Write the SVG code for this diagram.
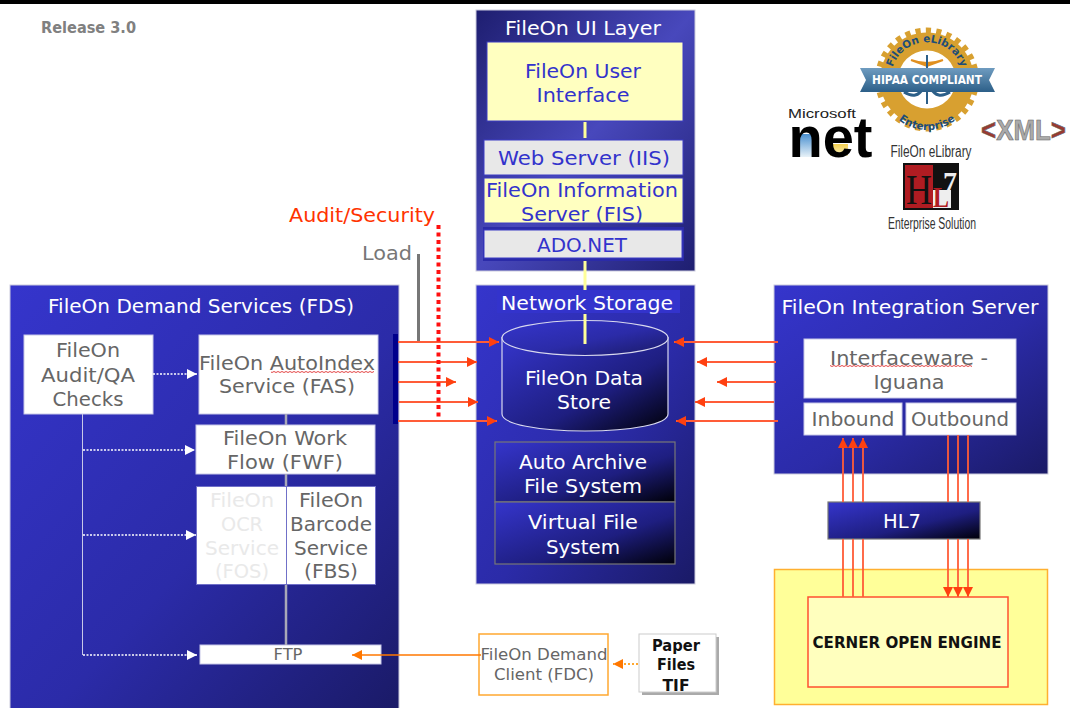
<svg xmlns="http://www.w3.org/2000/svg" width="1070" height="708" viewBox="0 0 1070 708">
<style>
text{font-family:"DejaVu Sans","Liberation Sans",sans-serif;text-anchor:middle}
.t{font-size:20px}
.w{fill:#fff}.g{fill:#666}.b{fill:#3333cc}.lg{fill:#e9e9e9}
.box{fill:#fff;stroke:#c8c8e8;stroke-width:1}
.red{stroke:#ff5c38;stroke-width:1.800;fill:none}
.redh{stroke:#ff5c38;stroke-width:1.800;fill:none;marker-end:url(#ah)}
.dot{stroke:#fff;stroke-width:1.500;stroke-dasharray:2 1.500;fill:none;marker-end:url(#wh)}
.wavy{fill:url(#wave)}
.condn{font-family:"Liberation Sans",sans-serif}
.serif{font-family:"Liberation Serif",serif}
</style>
<defs>
<linearGradient id="pan" x1="0" y1="0" x2="1" y2="1"><stop offset="0" stop-color="#3535cc"/><stop offset="0.55" stop-color="#2b2ba8"/><stop offset="1" stop-color="#1a1a66"/></linearGradient>
<linearGradient id="ui" x1="0" y1="0" x2="1" y2="1"><stop offset="0" stop-color="#1e1e70"/><stop offset="0.5" stop-color="#4848bc"/><stop offset="1" stop-color="#1e1e70"/></linearGradient>
<linearGradient id="dk" x1="0" y1="0" x2="1" y2="1"><stop offset="0" stop-color="#3535cc"/><stop offset="0.6" stop-color="#1e1e80"/><stop offset="1" stop-color="#000008"/></linearGradient>
<linearGradient id="netb" x1="0" y1="0" x2="0" y2="1"><stop offset="0" stop-color="#4a90d0"/><stop offset="1" stop-color="#e8f2f8"/></linearGradient>
<linearGradient id="nety" x1="0" y1="0" x2="0" y2="1"><stop offset="0" stop-color="#f4d050"/><stop offset="1" stop-color="#f8f0c0"/></linearGradient>
<linearGradient id="band" x1="0" y1="0" x2="0" y2="1"><stop offset="0" stop-color="#6f9cc0"/><stop offset="1" stop-color="#2c5f88"/></linearGradient>
<pattern id="wave" x="0" y="0" width="4" height="2" patternUnits="userSpaceOnUse"><path d="M0 .5L2 1.500L4 .5" stroke="#e03030" stroke-width=".9" fill="none"/></pattern>
<marker id="ah" viewBox="0 0 10 10" refX="10" refY="5" markerWidth="11" markerHeight="10" markerUnits="userSpaceOnUse" orient="auto"><path d="M0 0L10 5L0 10z" fill="#ff4010"/></marker>
<marker id="wh" viewBox="0 0 10 10" refX="10" refY="5" markerWidth="10" markerHeight="10" markerUnits="userSpaceOnUse" orient="auto"><path d="M0 0L10 5L0 10z" fill="#fff"/></marker>
<marker id="oh" viewBox="0 0 10 10" refX="10" refY="5" markerWidth="10" markerHeight="10" markerUnits="userSpaceOnUse" orient="auto"><path d="M0 0L10 5L0 10z" fill="#ff7700"/></marker>
<path id="arcT" d="M893 90A36 36 0 1 1 961 90"/>
<path id="arcB" d="M882 85A45 45 0 0 0 972 85"/>
</defs>
<rect width="1070" height="708" fill="#fff"/>
<rect x="0" y="0" width="1070" height="4" fill="#000"/>
<text x="88.500" y="33" font-size="15" font-weight="bold" fill="#808080" textLength="95" lengthAdjust="spacingAndGlyphs">Release 3.0</text>

<g id="ui-layer">
<rect x="476" y="10" width="219" height="261" fill="url(#ui)" stroke="#ccd" stroke-width="1"/>
<text class="t w" x="583" y="35" textLength="156" lengthAdjust="spacingAndGlyphs">FileOn UI Layer</text>
</g>
<g id="user-interface">
<rect x="487" y="42" width="196" height="79" fill="#ffffc0" stroke="#3c3cc4"/>
<text class="t b" x="583" y="78" textLength="116" lengthAdjust="spacingAndGlyphs">FileOn User</text>
<text class="t b" x="583" y="102" textLength="93" lengthAdjust="spacingAndGlyphs">Interface</text>
</g>
<rect x="483" y="227" width="201" height="34" fill="#2b2ba8"/>
<g id="web-server">
<rect x="484" y="140" width="199" height="35" fill="#e8e8e8" stroke="#3c3cc4"/>
<text class="t b" x="584" y="165" textLength="172" lengthAdjust="spacingAndGlyphs">Web Server (IIS)</text>
</g>
<g id="fis">
<rect x="484" y="178" width="199" height="45" fill="#ffffc0" stroke="#3c3cc4"/>
<text class="t b" x="582" y="197" textLength="192" lengthAdjust="spacingAndGlyphs">FileOn Information</text>
<text class="t b" x="582" y="221" textLength="122" lengthAdjust="spacingAndGlyphs">Server (FIS)</text>
</g>
<g id="ado">
<rect x="484" y="230" width="198" height="28" fill="#e8e8e8" stroke="#3c3cc4"/>
<text class="t b" x="582" y="252" textLength="90" lengthAdjust="spacingAndGlyphs">ADO.NET</text>
</g>

<g id="network-storage">
<rect x="476" y="285" width="219" height="299" fill="url(#pan)" stroke="#ccd" stroke-width="1"/>
<rect x="497" y="290" width="183" height="23" fill="#3333cc"/>
<text class="t w" x="587" y="310" textLength="172" lengthAdjust="spacingAndGlyphs">Network Storage</text>
</g>
<g id="data-store">
<path d="M502 337V414C502 424 538 431 585 431C632 431 668 424 668 414V337" fill="url(#dk)" stroke="#d8d8ee" stroke-width="1.200"/>
<ellipse cx="585" cy="338" rx="83" ry="17.500" fill="url(#pan)" stroke="#d8d8ee" stroke-width="1.200"/>
<text class="t w" x="584" y="385" textLength="118" lengthAdjust="spacingAndGlyphs">FileOn Data</text>
<text class="t w" x="584" y="409" textLength="54" lengthAdjust="spacingAndGlyphs">Store</text>
</g>
<g id="auto-archive">
<rect x="495" y="442" width="180" height="60" fill="url(#dk)" stroke="#777" stroke-width="1.200"/>
<text class="t w" x="583" y="469" textLength="128" lengthAdjust="spacingAndGlyphs">Auto Archive</text>
<text class="t w" x="583" y="493" textLength="118" lengthAdjust="spacingAndGlyphs">File System</text>
</g>
<g id="virtual-fs">
<rect x="495" y="502" width="180" height="62" fill="url(#dk)" stroke="#777" stroke-width="1.200"/>
<text class="t w" x="583" y="529" textLength="110" lengthAdjust="spacingAndGlyphs">Virtual File</text>
<text class="t w" x="583" y="554" textLength="74" lengthAdjust="spacingAndGlyphs">System</text>
</g>

<g id="fds">
<rect x="10" y="285" width="389" height="430" fill="url(#pan)" stroke="#ccd" stroke-width="1"/>
<text class="t w" x="201" y="313" textLength="306" lengthAdjust="spacingAndGlyphs">FileOn Demand Services (FDS)</text>
<rect x="393" y="334" width="5" height="90" fill="#00008c"/>
</g>
<g id="audit-qa">
<rect class="box" x="24" y="335" width="129" height="79"/>
<text class="t g" x="88" y="357" textLength="64" lengthAdjust="spacingAndGlyphs">FileOn</text>
<text class="t g" x="88" y="382" textLength="94" lengthAdjust="spacingAndGlyphs">Audit/QA</text>
<text class="t g" x="88" y="406" textLength="71" lengthAdjust="spacingAndGlyphs">Checks</text>
</g>
<g id="fas">
<rect class="box" x="199" y="335" width="179" height="79"/>
<text class="t g" x="287" y="370" textLength="176" lengthAdjust="spacingAndGlyphs">FileOn AutoIndex</text>
<text class="t g" x="287" y="393" textLength="136" lengthAdjust="spacingAndGlyphs">Service (FAS)</text>
<rect class="wavy" x="271" y="371" width="103" height="2"/>
</g>
<g id="fwf">
<rect class="box" x="196" y="425" width="179" height="49"/>
<text class="t g" x="285" y="445" textLength="124" lengthAdjust="spacingAndGlyphs">FileOn Work</text>
<text class="t g" x="285" y="469" textLength="116" lengthAdjust="spacingAndGlyphs">Flow (FWF)</text>
</g>
<g id="fos">
<rect x="196.500" y="486.500" width="90" height="98" fill="#fff" stroke="#7070c8"/>
<text class="t lg" x="242" y="507" textLength="64" lengthAdjust="spacingAndGlyphs">FileOn</text>
<text class="t lg" x="242" y="531" textLength="42" lengthAdjust="spacingAndGlyphs">OCR</text>
<text class="t lg" x="242" y="555" textLength="74" lengthAdjust="spacingAndGlyphs">Service</text>
<text class="t lg" x="242" y="578" textLength="54" lengthAdjust="spacingAndGlyphs">(FOS)</text>
</g>
<g id="fbs">
<rect x="286.500" y="486.500" width="89" height="98" fill="#fff" stroke="#7070c8"/>
<text class="t g" x="331" y="507" textLength="64" lengthAdjust="spacingAndGlyphs">FileOn</text>
<text class="t g" x="331" y="531" textLength="82" lengthAdjust="spacingAndGlyphs">Barcode</text>
<text class="t g" x="331" y="555" textLength="74" lengthAdjust="spacingAndGlyphs">Service</text>
<text class="t g" x="331" y="578" textLength="54" lengthAdjust="spacingAndGlyphs">(FBS)</text>
</g>
<g id="ftp">
<rect class="box" x="200" y="645" width="181" height="19"/>
<text x="288" y="660" font-size="15" class="g" textLength="29" lengthAdjust="spacingAndGlyphs">FTP</text>
</g>

<g id="fdc">
<rect x="479" y="634" width="129" height="61" fill="#fff" stroke="#ffa830" stroke-width="1.500"/>
<text x="544" y="660" font-size="16" class="g" textLength="127" lengthAdjust="spacingAndGlyphs">FileOn Demand</text>
<text x="544" y="680" font-size="16" class="g" textLength="100" lengthAdjust="spacingAndGlyphs">Client (FDC)</text>
</g>
<g id="paper">
<rect x="642" y="637" width="77" height="58" fill="#aaa"/>
<rect x="639" y="634" width="77" height="58" fill="#fff" stroke="#ccc"/>
<text x="676" y="651" font-size="15" font-weight="bold" fill="#111" textLength="48" lengthAdjust="spacingAndGlyphs">Paper</text>
<text x="676" y="670" font-size="15" font-weight="bold" fill="#111" textLength="38" lengthAdjust="spacingAndGlyphs">Files</text>
<text x="676" y="691" font-size="15" font-weight="bold" fill="#111" textLength="27" lengthAdjust="spacingAndGlyphs">TIF</text>
</g>

<g id="integration-server">
<rect x="774" y="285" width="274" height="189" fill="url(#pan)" stroke="#ccd" stroke-width="1"/>
<text class="t w" x="910" y="314" textLength="257" lengthAdjust="spacingAndGlyphs">FileOn Integration Server</text>
</g>
<g id="iguana">
<rect class="box" x="804" y="339" width="212" height="59"/>
<text class="t g" x="909" y="365" textLength="158" lengthAdjust="spacingAndGlyphs">Interfaceware -</text>
<text class="t g" x="909" y="389" textLength="71" lengthAdjust="spacingAndGlyphs">Iguana</text>
<rect class="wavy" x="830" y="365" width="142" height="2"/>
</g>
<g id="inbound">
<rect class="box" x="804" y="403" width="98" height="32"/>
<text class="t g" x="853" y="426" textLength="83" lengthAdjust="spacingAndGlyphs">Inbound</text>
</g>
<g id="outbound">
<rect class="box" x="906" y="403" width="110" height="32"/>
<text class="t g" x="960" y="426" textLength="98" lengthAdjust="spacingAndGlyphs">Outbound</text>
</g>
<g id="hl7">
<rect x="828" y="502" width="152" height="37" fill="url(#dk)" stroke="#777" stroke-width="1.200"/>
<text class="t w" x="902" y="528" textLength="38" lengthAdjust="spacingAndGlyphs">HL7</text>
</g>
<g id="cerner-zone"><rect x="774.500" y="569.500" width="273" height="135" fill="#ffff99" stroke="#ffb030" stroke-width="1.500"/></g>
<g id="cerner">
<rect x="808" y="597" width="200" height="90" fill="#ffffbe" stroke="#ff5030" stroke-width="1.500"/>
<text x="907" y="648" font-size="15" font-weight="bold" fill="#111" textLength="189" lengthAdjust="spacingAndGlyphs">CERNER OPEN ENGINE</text>
</g>

<g id="connectors">
<path d="M585 122V138M585 261V290M585 314V344" stroke="#ffff99" stroke-width="3" fill="none"/>
<path d="M286 414V425M286 474V486M286 585V645" stroke="#a8a8b8" stroke-width="2.500" fill="none"/>
<path d="M82.500 414V655" stroke="#c8c8e8" stroke-width="1" fill="none"/>
<path class="dot" d="M153 374H197"/>
<path class="dot" d="M83 450H195"/>
<path class="dot" d="M83 535H196"/>
<path class="dot" d="M83 655H197"/>
<path d="M481 655H352" stroke="#ff7700" stroke-width="1.500" fill="none" marker-end="url(#oh)"/>
<path d="M638 664H613" stroke="#ffa830" stroke-width="2" stroke-dasharray="2 2" fill="none" marker-end="url(#oh)"/>
<path d="M418.500 254V342" stroke="#777" stroke-width="3" fill="none"/>
<path class="redh" d="M398 342H499"/>
<path class="redh" d="M398 362H477"/>
<path class="redh" d="M398 382H456"/>
<path class="redh" d="M399 402H478"/>
<path class="redh" d="M398 421H497"/>
<path class="redh" d="M778 342H674"/>
<path class="redh" d="M776 362H697"/>
<path class="redh" d="M776 382H717"/>
<path class="redh" d="M774 402H695"/>
<path class="redh" d="M778 421H676"/>
<path d="M438.500 225V417" stroke="#ff1010" stroke-width="4" stroke-dasharray="4 3.500" fill="none"/>
<path class="redh" d="M843 502V438"/>
<path class="redh" d="M853 502V438"/>
<path class="redh" d="M863 502V438"/>
<path class="red" d="M948 435V502M958 435V502M968 435V502"/>
<path class="red" d="M843 539V597M853 539V597M863 539V597"/>
<path class="redh" d="M948 539V597"/>
<path class="redh" d="M958 539V597"/>
<path class="redh" d="M968 539V597"/>
</g>

<text x="362" y="222" font-size="20" fill="#ff3300" textLength="146" lengthAdjust="spacingAndGlyphs">Audit/Security</text>
<text x="387" y="260" font-size="20" fill="#777" textLength="50" lengthAdjust="spacingAndGlyphs">Load</text>

<g id="logo-hipaa">
<circle cx="927" cy="79.500" r="47" fill="none" stroke="#d8a030" stroke-width="10" stroke-dasharray="5 5"/>
<circle cx="927" cy="79.500" r="47" fill="#d8a030"/>
<circle cx="927" cy="79.500" r="29" fill="#fff"/>
<path d="M911 60Q927 66 943 60L927 66z" fill="#e09020" stroke="#e09020" stroke-width="2"/>
<path d="M927 55V104" stroke="#2c5f88" stroke-width="2"/>
<path d="M904 92Q917 100 923 88M950 92Q937 100 931 88" stroke="#2c5f88" stroke-width="3" fill="none"/>
<text font-size="10.500" font-weight="bold" fill="#1d4d78"><textPath href="#arcT" startOffset="50%">FileOn eLibrary</textPath></text>
<text font-size="10.500" font-weight="bold" fill="#1d4d78"><textPath href="#arcB" startOffset="50%">Enterprise</textPath></text>
<path d="M860 68H995L989 80L995 92H860L866 80z" fill="url(#band)"/>
<text x="927" y="84" font-size="12" font-weight="bold" fill="#fff" textLength="110" lengthAdjust="spacingAndGlyphs">HIPAA COMPLIANT</text>
</g>
<g id="logo-net">
<rect x="797" y="134" width="20" height="23" fill="url(#netb)"/>
<rect x="830" y="144" width="18" height="12" fill="url(#nety)"/>
<text x="822" y="118" font-size="13" class="condn" fill="#222" textLength="68" lengthAdjust="spacingAndGlyphs">Microsoft</text>
<text x="830.500" y="157" font-size="58" class="condn" font-weight="bold" fill="#000" textLength="84" lengthAdjust="spacingAndGlyphs">net</text>
</g>
<g id="logo-xml">
<text x="1023.500" y="140" font-size="30" font-weight="bold" class="condn" fill="#aaa" stroke="#666" stroke-width=".6" textLength="85" lengthAdjust="spacingAndGlyphs"><tspan fill="#9a3a30">&lt;</tspan>XML<tspan fill="#9a3a30">&gt;</tspan></text>
</g>
<g id="logo-hl7">
<text x="931" y="157" font-size="16" class="condn" fill="#333" textLength="81" lengthAdjust="spacingAndGlyphs">FileOn eLibrary</text>
<rect x="903" y="163" width="56" height="47" fill="#111"/>
<rect x="905" y="165" width="28" height="43" fill="#b01c22"/>
<rect x="933" y="190" width="18" height="18" fill="#eee"/>
<text class="serif" x="919" y="204" font-size="42" fill="#111" textLength="26" lengthAdjust="spacingAndGlyphs">H</text>
<text class="serif" x="941" y="207" font-size="30" font-weight="bold" fill="#b01c22" textLength="16" lengthAdjust="spacingAndGlyphs">L</text>
<text class="serif" x="950" y="192" font-size="30" font-weight="bold" fill="#eee" textLength="14" lengthAdjust="spacingAndGlyphs">7</text>
<text x="932" y="229" font-size="16" class="condn" fill="#333" textLength="88" lengthAdjust="spacingAndGlyphs">Enterprise Solution</text>
</g>
</svg>
